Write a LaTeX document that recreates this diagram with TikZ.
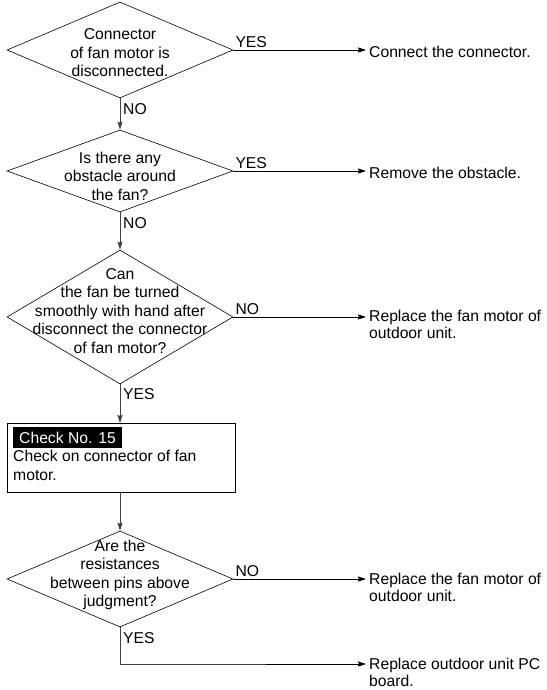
\documentclass[tikz,border=0pt]{standalone}
\usepackage{fontspec}
\setmainfont{Liberation Sans}
\usetikzlibrary{shapes.geometric,arrows.meta,calc}
\begin{document}
\begin{tikzpicture}[x=1pt,y=-1pt,
  font=\fontsize{15.7}{18.5}\selectfont,
  dec/.style={diamond, draw, line width=0.6pt, inner sep=0pt, minimum width=226pt, minimum height=#1},
  dtext/.style={align=center, inner sep=0pt},
  hflow/.style={line width=0.6pt, -{Stealth[length=8pt,width=5pt,inset=1pt]}},
  vflow/.style={line width=1pt, draw=black!75, -{Stealth[length=8pt,width=5pt,inset=1pt]}},
  vline/.style={line width=1pt, draw=black!75},
  lbl/.style={inner sep=0pt},
  res/.style={align=left, anchor=north west, inner xsep=3pt, inner ysep=0pt, font=\fontsize{15.7}{17}\selectfont}]
\useasboundingbox (0,0) rectangle (546,690);

% decisions
\node[dec=96pt] (d1) at (120,50) {};
\node[dtext] (t1) at (120,53) {Connector\\of fan motor is\\disconnected.};
\node[dec=82pt] (d2) at (120,171) {};
\node[dtext] (t2) at (120,176) {Is there any\\obstacle around\\the fan?};
\node[dec=134pt] (d3) at (120,317) {};
\node[dtext] (t3) at (120,311) {Can\\the fan be turned\\smoothly with hand after\\disconnect the connector\\of fan motor?};
\node[dec=96pt] (d4) at (120,579) {};
\node[dtext] (t4) at (120,575) {Are the\\resistances\\between pins above\\judgment?};

% check box
\node[draw, line width=0.6pt, minimum width=228pt, minimum height=69pt, anchor=north west, inner sep=0pt] (box) at (7,423) {};
\node[fill=black, text=white, anchor=north west, inner xsep=6pt, inner ysep=0pt, minimum height=21pt] (tag) at (13,427) {Check No. 15};
\node[align=left, anchor=north west, inner sep=0pt] (body) at (13,450) {Check on connector of fan\\motor.};

% results
\node[res] (r1) at (366,46) {Connect the connector.};
\node[res] (r2) at (366,167) {Remove the obstacle.};
\node[res] (r3) at (366,310) {Replace the fan motor of\\outdoor unit.};
\node[res] (r4) at (366,573) {Replace the fan motor of\\outdoor unit.};
\node[res] (r5) at (366,658) {Replace outdoor unit PC\\board.};

% connectors
\draw[hflow] (d1.east) -- (d1.east -| r1.west);
\draw[hflow] (d2.east) -- (d2.east -| r2.west);
\draw[hflow] (d3.east) -- (d3.east -| r3.west);
\draw[hflow] (d4.east) -- (d4.east -| r4.west);
\draw[vflow] (d1.south) -- (d2.north);
\draw[vflow] (d2.south) -- (d3.north);
\draw[vflow] (d3.south) -- (d3.south |- box.north);
\draw[vflow] (d4.north |- box.south) -- (d4.north);
\draw[vline] (d4.south) |- ([xshift=-100pt,yshift=-6pt]r5.north west);
\draw[hflow] ([xshift=-100pt,yshift=-6pt]r5.north west) -- ([yshift=-6pt]r5.north west);

% labels
\node[lbl, anchor=south west] (y1) at ([xshift=2pt,yshift=2pt]d1.east) {YES};
\node[lbl, anchor=north west] (n1) at ([xshift=3pt,yshift=-5pt]d1.south) {NO};
\node[lbl, anchor=south west] (y2) at ([xshift=2pt,yshift=2pt]d2.east) {YES};
\node[lbl, anchor=north west] (n2) at ([xshift=3pt,yshift=-5pt]d2.south) {NO};
\node[lbl, anchor=south west] (n3) at ([xshift=2pt,yshift=2pt]d3.east) {NO};
\node[lbl, anchor=north west] (y3) at ([xshift=3pt,yshift=-4pt]d3.south) {YES};
\node[lbl, anchor=south west] (n4) at ([xshift=2pt,yshift=2pt]d4.east) {NO};
\node[lbl, anchor=north west] (y4) at ([xshift=3pt,yshift=-5pt]d4.south) {YES};
\end{tikzpicture}
\end{document}
